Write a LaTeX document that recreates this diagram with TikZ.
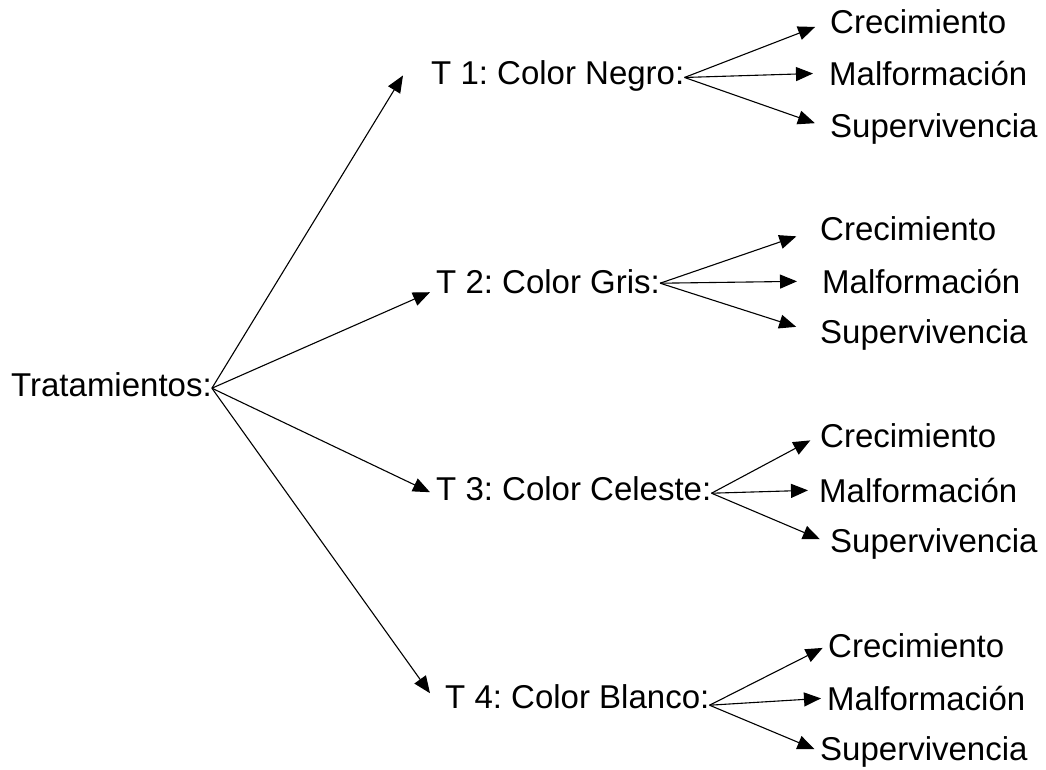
\documentclass[tikz,border=0pt]{standalone}
\usepackage{fontspec}
\setmainfont{Liberation Sans}
\usetikzlibrary{arrows.meta}
\frenchspacing

\tikzset{
  etiqueta/.style={anchor=base west, inner sep=0pt, font=\fontsize{33}{39}\selectfont},
  flecha/.style={-{Triangle[length=17pt,width=14pt]}, line width=1.1pt},
}

\begin{document}
\begin{tikzpicture}[x=1pt,y=-1pt]
        \useasboundingbox (0,0) rectangle (1046,769);
        % Root
        \node[etiqueta] (trat) at (11,396) {Tratamientos:};
        % Treatments
        \node[etiqueta] (t1) at (431,84) {T 1: Color Negro:};
        \node[etiqueta] (t2) at (436,293) {T 2: Color Gris:};
        \node[etiqueta] (t3) at (436,500) {T 3: Color Celeste:};
        \node[etiqueta] (t4) at (445,708) {T 4: Color Blanco:};
        % Response variables of each treatment
        \foreach \g/\xc/\yc/\xm/\ym/\xs/\ys in {1/830/33/829/85/830/137,
                                                2/820/240/822/293/820/343,
                                                3/820/447/819/502/830/552,
                                                4/828/657/827/710/820/760} {
            \node[etiqueta] (c\g) at (\xc,\yc) {Crecimiento};
            \node[etiqueta] (m\g) at (\xm,\ym) {Malformación};
            \node[etiqueta] (s\g) at (\xs,\ys) {Supervivencia};
        }
        % Arrows from the root
        \draw[flecha] ([yshift=-4pt]trat.east) -- ([xshift=-28pt]t1.west);
        \draw[flecha] ([yshift=-4pt]trat.east) -- ([xshift=-6pt,yshift=-11pt]t2.west);
        \draw[flecha] ([yshift=-4pt]trat.east) -- ([xshift=-6pt,yshift=-4pt]t3.west);
        \draw[flecha] ([yshift=-4pt]trat.east) -- ([xshift=-15pt,yshift=3pt]t4.west);
        % Arrows to the variables
        \foreach \g/\dy/\gap in {1/-2/16,2/-2/25,3/-5/11,4/-9/6} {
            \foreach \n in {c,m,s} {
                \draw[flecha, shorten >=\gap pt] ([yshift=\dy pt]t\g.east) -- (\n\g.west);
            }
        }
\end{tikzpicture}
\end{document}
